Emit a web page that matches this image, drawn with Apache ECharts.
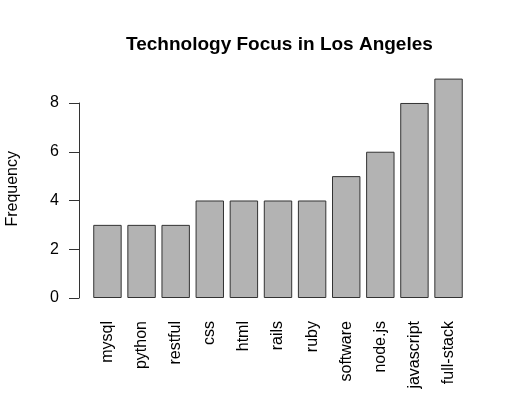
<!DOCTYPE html>
<html><head><meta charset="utf-8">
<script src="https://cdn.jsdelivr.net/npm/echarts@6/dist/echarts.min.js"></script>
<style>html,body{margin:0;padding:0;background:#fff}#c{width:518px;height:398px}</style>
</head><body><div id="c"></div>
<script>
const categories = ["mysql","python","restful","css","html","rails","ruby","software","node.js","javascript","full-stack"];
const frequency = [3,3,3,4,4,4,4,5,6,8,9];
const yTicks = [0,2,4,6,8];

const chart = echarts.init(document.getElementById('c'), null, {renderer:'canvas'});
const F = '"Liberation Sans", Arial, Helvetica, sans-serif';
const left = 90.4, width = 375.2;
chart.setOption({
  animation: false,
  backgroundColor: '#fff',
  title: {text: 'Technology Focus in Los Angeles', left: 121, top: 30,
    textStyle: {fontFamily: F, fontWeight: 'bold', fontSize: 19, color: '#000'}},
  graphic: [{type:'text', left: 5, top: 151, rotation: Math.PI/2,
    style: {text: 'Frequency', font: '16px ' + F, fill: '#000'}}],
  grid: [
    {left: left, width: width, top: 78.6, height: 219.4, containLabel: false},
    {left: left, width: width, top: 103, height: 195, containLabel: false}
  ],
  xAxis: [
    {type:'category', gridIndex:0, data: categories, boundaryGap: true,
      axisLine:{show:false}, axisTick:{show:false},
      axisLabel:{rotate:90, margin:23, fontFamily:F, fontSize:16, color:'#000', interval:0}},
    {type:'category', gridIndex:1, data: categories, show:false}
  ],
  yAxis: [
    {type:'value', gridIndex:0, min:0, max:9, show:false, splitLine:{show:false}},
    {type:'value', gridIndex:1, min:0, max:8, interval:2, offset:11.4,
      axisLine:{show:true, lineStyle:{color:'#333', width:1}},
      axisTick:{show:true, length:10, lineStyle:{color:'#333'}},
      splitLine:{show:false},
      axisLabel:{margin:20, fontFamily:F, fontSize:16, color:'#000',
        formatter: v => yTicks.includes(v) ? String(v) : ''}}
  ],
  series: [{type:'bar', xAxisIndex:0, yAxisIndex:0, data: frequency,
    barCategoryGap: '16.7%',
    itemStyle:{color:'#b3b3b3', borderColor:'#333', borderWidth:1}}]
});
</script></body></html>
